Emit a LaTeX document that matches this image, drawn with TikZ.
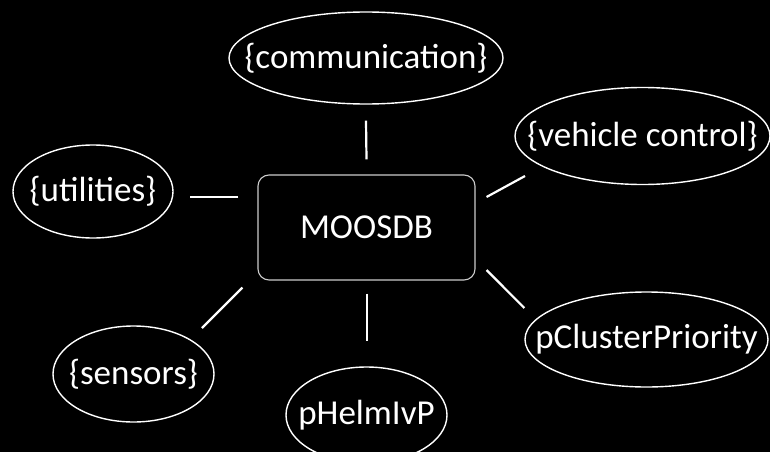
\documentclass[tikz,border=0pt]{standalone}
\usepackage{fontspec}
\setmainfont{Carlito}
\usetikzlibrary{shapes.geometric}
\newcommand{\ctxt}[1]{\makebox[0pt][c]{#1}}
\begin{document}
\begin{tikzpicture}[x=1pt,y=-1pt,
  bubble/.style={ellipse, draw=white, line width=1.4pt, text=white, inner sep=0pt,
    font=\fontsize{35}{42}\selectfont},
  hub/.style={rectangle, rounded corners=11pt, draw=white!80!black, line width=1.1pt,
    text=white, inner sep=0pt, minimum width=217pt, minimum height=105pt,
    font=\fontsize{35}{42}\selectfont},
  link/.style={draw=white, line width=2.2pt}]
\useasboundingbox[fill=black] (0,0) rectangle (770,452);
\node[hub] (moos) at (366.5,227.5) {MOOSDB};
\node[bubble, minimum width=274pt, minimum height=92pt] (comm) at (366,58) {\ctxt{\{communication\}}};
\node[bubble, minimum width=255pt, minimum height=97pt] (vc) at (642.5,136) {\ctxt{\{vehicle control\}}};
\node[bubble, minimum width=160pt, minimum height=93pt] (util) at (93,191.5) {\ctxt{\{utilities\}}};
\node[bubble, minimum width=161pt, minimum height=96pt] (sens) at (133.5,374) {\ctxt{\{sensors\}}};
\node[bubble, minimum width=243pt, minimum height=95pt] (pcp) at (646.5,339.5) {\ctxt{pClusterPriority}};
\node[bubble, minimum width=161pt, minimum height=96pt] (helm) at (366.5,415) {\ctxt{pHelmIvP}};
\draw[link] ([shift={(0,-15)}]moos.north) -- ([shift={(0,16)}]comm.south);
\draw[link] ([shift={(0.5,13)}]moos.south) -- ([shift={(0.5,-25)}]helm.north);
\draw[link] ([shift={(-19,-30.5)}]moos.west) -- ([shift={(16,5.5)}]util.east);
\draw[link] ([shift={(-15,7)}]moos.south west) -- ([shift={(68.5,-46)}]sens.center);
\draw[link] ([shift={(11,-30.5)}]moos.east) -- ([shift={(-117.5,40)}]vc.center);
\draw[link] ([shift={(11,42.5)}]moos.east) -- ([shift={(0,-31.5)}]pcp.west);
\end{tikzpicture}
\end{document}
